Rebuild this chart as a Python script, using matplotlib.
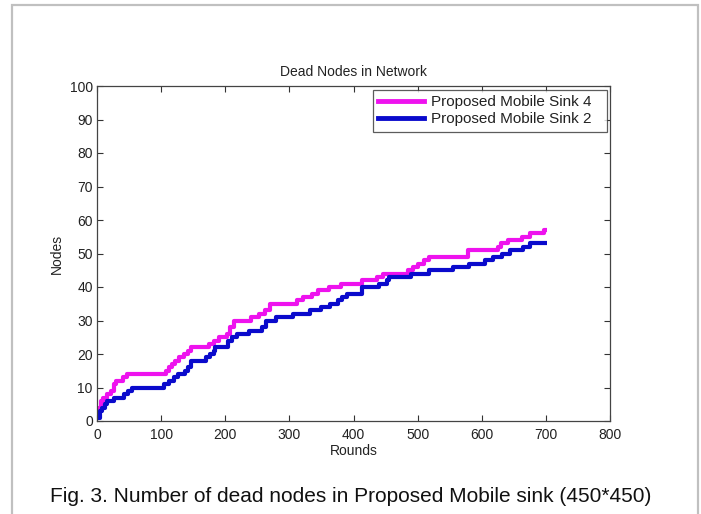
import matplotlib
matplotlib.use("Agg")
import matplotlib.pyplot as plt
from matplotlib.lines import Line2D
from matplotlib.patches import Rectangle

# ---- data ----
sink4_rounds = [0, 3, 6, 10, 16, 22, 27, 30, 40, 47, 108, 113, 117, 121, 128, 135, 142, 147,
                174, 182, 190, 202, 208, 213, 240, 252, 262, 270, 312, 322, 335, 345, 362,
                380, 413, 436, 446, 485, 493, 501, 510, 517, 579, 625, 630, 641, 662, 675,
                697, 702]
sink4_dead = [3, 4, 6, 7, 8, 9, 11, 12, 13, 14, 15, 16, 17, 18, 19, 20, 21, 22,
              23, 24, 25, 26, 28, 30, 31, 32, 33, 35, 36, 37, 38, 39, 40,
              41, 42, 43, 44, 45, 46, 47, 48, 49, 51, 52, 53, 54, 55, 56,
              57, 57]

sink2_rounds = [0, 4, 8, 12, 16, 26, 42, 49, 55, 105, 113, 120, 126, 137, 142, 147, 170,
                176, 182, 184, 205, 211, 218, 237, 258, 263, 279, 305, 332, 350, 363, 376,
                382, 390, 413, 440, 452, 456, 490, 517, 555, 580, 605, 618, 632, 644, 665,
                676, 702]
sink2_dead = [1, 3, 4, 5, 6, 7, 8, 9, 10, 11, 12, 13, 14, 15, 16, 18, 19,
              20, 21, 22, 24, 25, 26, 27, 28, 30, 31, 32, 33, 34, 35, 36,
              37, 38, 40, 41, 42, 43, 44, 45, 46, 47, 48, 49, 50, 51, 52,
              53, 53]

series_labels = ["Proposed Mobile Sink 4", "Proposed Mobile Sink 2"]
title_text = "Dead Nodes in Network"
xlabel_text = "Rounds"
ylabel_text = "Nodes"
caption_text = "Fig. 3. Number of dead nodes in Proposed Mobile sink (450*450)"
x_ticks = list(range(0, 801, 100))
y_ticks = list(range(0, 101, 10))

# ---- figure ----
W, H, DPI = 701, 514, 100
plt.rcParams['font.family'] = ['Liberation Sans', 'DejaVu Sans']
fig = plt.figure(figsize=(W / DPI, H / DPI), dpi=DPI)
fig.patch.set_facecolor('white')

# outer frame of the figure panel
fig.add_artist(Rectangle((12 / W, -0.05), (698 - 12) / W, 1.05 - 5 / H,
                         transform=fig.transFigure, fill=False,
                         edgecolor='#c0c0c0', linewidth=1.6))

ax_left, ax_right, ax_top, ax_bottom = 97, 610, 86, 421
axw, axh = ax_right - ax_left, ax_bottom - ax_top
ax = fig.add_axes([ax_left / W, 1 - ax_bottom / H, axw / W, axh / H])

c4 = '#ee12ee'
c2 = '#0a0acc'
ax.step(sink4_rounds, sink4_dead, where='post', color=c4, linewidth=3.0,
        solid_capstyle='butt', label=series_labels[0])
ax.step(sink2_rounds, sink2_dead, where='post', color=c2, linewidth=3.0,
        solid_capstyle='butt', label=series_labels[1])

ax.set_xlim(0, 800)
ax.set_ylim(0, 100)
ax.set_xticks(x_ticks)
ax.set_yticks(y_ticks)
ax.tick_params(direction='in', length=4, width=0.8, top=True, right=True,
               labelsize=10, colors='#333333', labelcolor='#222222')
ax.tick_params(axis='x', pad=5)
ax.tick_params(axis='y', pad=3)
for s in ax.spines.values():
    s.set_color('#444444')
    s.set_linewidth(0.9)

ax.set_title(title_text, fontsize=10, color='#222222', pad=7)
ax.set_xlabel(xlabel_text, fontsize=10, color='#222222')
ax.set_ylabel(ylabel_text, fontsize=10, color='#222222')
ax.xaxis.set_label_coords(0.5, -(444 - ax_bottom) / axh)
ax.yaxis.set_label_coords(-(97 - 64) / axw, 0.5)

# legend box spanning x = 373..607 px, top at 90 px
lx0 = (373 - ax_left) / axw
lw_ = (607 - 373) / axw
ltop = (ax_bottom - 90) / axh
handles = [Line2D([], [], color=c4, linewidth=3.5), Line2D([], [], color=c2, linewidth=3.5)]
leg = ax.legend(handles, series_labels, loc='upper left', mode='expand',
                bbox_to_anchor=(lx0, ltop - 0.2, lw_, 0.2), borderaxespad=0, fontsize=11,
                fancybox=False, frameon=True, handlelength=3.0, handletextpad=0.45,
                labelspacing=0.2, borderpad=0.35)
leg.get_frame().set_edgecolor('#333333')
leg.get_frame().set_linewidth(0.9)
for t in leg.get_texts():
    t.set_color('#222222')

# caption below the plot, sized to span the reference width
cap = fig.text(0.5, 1 - 497 / H, caption_text, ha='center', va='center',
               fontsize=14, color='#111111')
fig.canvas.draw()
r = fig.canvas.get_renderer()
wpx = cap.get_window_extent(r).width
cap.set_fontsize(14 * 605 / wpx)

fig.savefig('out.png', dpi=DPI)
